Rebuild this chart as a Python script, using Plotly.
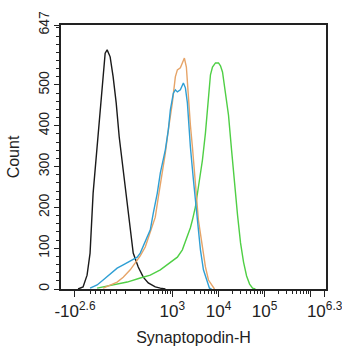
import plotly.graph_objects as go
import numpy as np

# x values are in display "decade" units of the biexponential axis (10^3 -> 3)
black_x = [0.957, 1.065, 1.152, 1.217, 1.283, 1.370, 1.435, 1.478, 1.544, 1.587, 1.652, 1.717, 1.783, 1.848, 1.935, 2.022, 2.087, 2.152, 2.261, 2.370, 2.478, 2.630, 2.739, 2.850]
black_y = [0, 5, 34, 88, 235, 348, 439, 495, 578, 586, 569, 520, 456, 373, 292, 211, 137, 88, 54, 29, 15, 5, 2, 0]

orange_x = [1.500, 1.652, 1.804, 1.935, 2.087, 2.196, 2.304, 2.413, 2.522, 2.630, 2.696, 2.783, 2.848, 2.913, 3.000, 3.065, 3.109, 3.174, 3.217, 3.261, 3.304, 3.348, 3.391, 3.435, 3.500, 3.565, 3.652, 3.717, 3.783, 3.870, 3.913]
orange_y = [2, 10, 17, 29, 47, 64, 81, 103, 137, 176, 225, 284, 333, 390, 456, 520, 537, 542, 556, 566, 544, 463, 402, 348, 267, 169, 103, 54, 22, 5, 0]

blue_x = [1.217, 1.370, 1.500, 1.652, 1.804, 1.935, 2.087, 2.239, 2.304, 2.413, 2.522, 2.587, 2.674, 2.739, 2.848, 2.913, 2.957, 3.022, 3.065, 3.109, 3.174, 3.239, 3.283, 3.326, 3.391, 3.457, 3.543, 3.609, 3.674, 3.761, 3.804, 3.848]
blue_y = [2, 10, 22, 37, 51, 59, 69, 78, 88, 115, 145, 186, 235, 284, 341, 390, 439, 480, 488, 483, 488, 505, 493, 456, 348, 267, 169, 96, 47, 15, 2, 0]

green_x = [1.370, 1.500, 1.717, 2.022, 2.304, 2.522, 2.739, 2.957, 3.109, 3.217, 3.326, 3.391, 3.435, 3.500, 3.565, 3.652, 3.717, 3.761, 3.783, 3.826, 3.870, 3.935, 4.000, 4.043, 4.087, 4.130, 4.152, 4.217, 4.283, 4.348, 4.413, 4.478, 4.543, 4.609, 4.674, 4.739, 4.800]
green_y = [2, 5, 10, 17, 27, 34, 47, 64, 78, 96, 127, 150, 169, 201, 250, 316, 382, 439, 475, 525, 544, 554, 554, 547, 532, 500, 483, 426, 341, 255, 181, 113, 66, 32, 12, 2, 0]

x_tickvals = [0.89, 3, 4, 5, 6, 6.3]
x_ticktext = ["-10<sup>2.6</sup>", "10<sup>3</sup>", "10<sup>4</sup>", "10<sup>5</sup>", "", "10<sup>6.3</sup>"]
y_tickvals = [0, 100, 200, 300, 400, 500, 647]
y_ticktext = ["0", "100", "200", "300", "400", "500", "647"]

x_minor = [1.22, 1.33, 1.435, 1.54, 1.65, 1.80, 1.98] + [d + np.log10(m) for d in (2, 3, 4, 5) for m in range(2, 10)] + [6.299]

fig = go.Figure()
series = [
    (black_x, black_y, "#1a1a1a"),
    (green_x, green_y, "#4fcf45"),
    (orange_x, orange_y, "#e6a468"),
    (blue_x, blue_y, "#2f9fd4"),
]
for xs, ys, c in series:
    fig.add_trace(go.Scatter(x=xs, y=ys, mode="lines", line=dict(color=c, width=1.4), showlegend=False, hoverinfo="skip"))

fig.update_layout(
    width=342, height=350,
    margin=dict(l=61, r=16, t=25, b=61, autoexpand=False),
    paper_bgcolor="white", plot_bgcolor="white",
    font=dict(family="Liberation Sans, Arial, sans-serif", color="#222"),
    showlegend=False,
)
fig.update_xaxes(
    range=[0.587, 6.33], tickmode="array", tickvals=x_tickvals, ticktext=x_ticktext,
    showgrid=False, zeroline=False, showline=True, linecolor="#222", linewidth=1.5, mirror=True,
    ticks="outside", ticklen=6, tickwidth=1.2, tickcolor="#222",
    tickfont=dict(size=17), ticklabeloverflow="allow",
    minor=dict(tickmode="array", tickvals=x_minor, ticks="outside", ticklen=3, tickwidth=1, tickcolor="#222"),
    title=dict(text="Synaptopodin-H", font=dict(size=16), standoff=12),
)
fig.update_yaxes(
    range=[0, 647], tickmode="array", tickvals=y_tickvals, ticktext=y_ticktext,
    showgrid=False, zeroline=False, showline=True, linecolor="#222", linewidth=1.5, mirror=True,
    ticks="outside", ticklen=5, tickwidth=1.2, tickcolor="#222",
    tickangle=-90, tickfont=dict(size=14),
    minor=dict(dtick=20, tick0=0, ticks="outside", ticklen=3, tickwidth=1, tickcolor="#222"),
    title=dict(text="Count", font=dict(size=16), standoff=12),
)
fig.write_html("out.html")
